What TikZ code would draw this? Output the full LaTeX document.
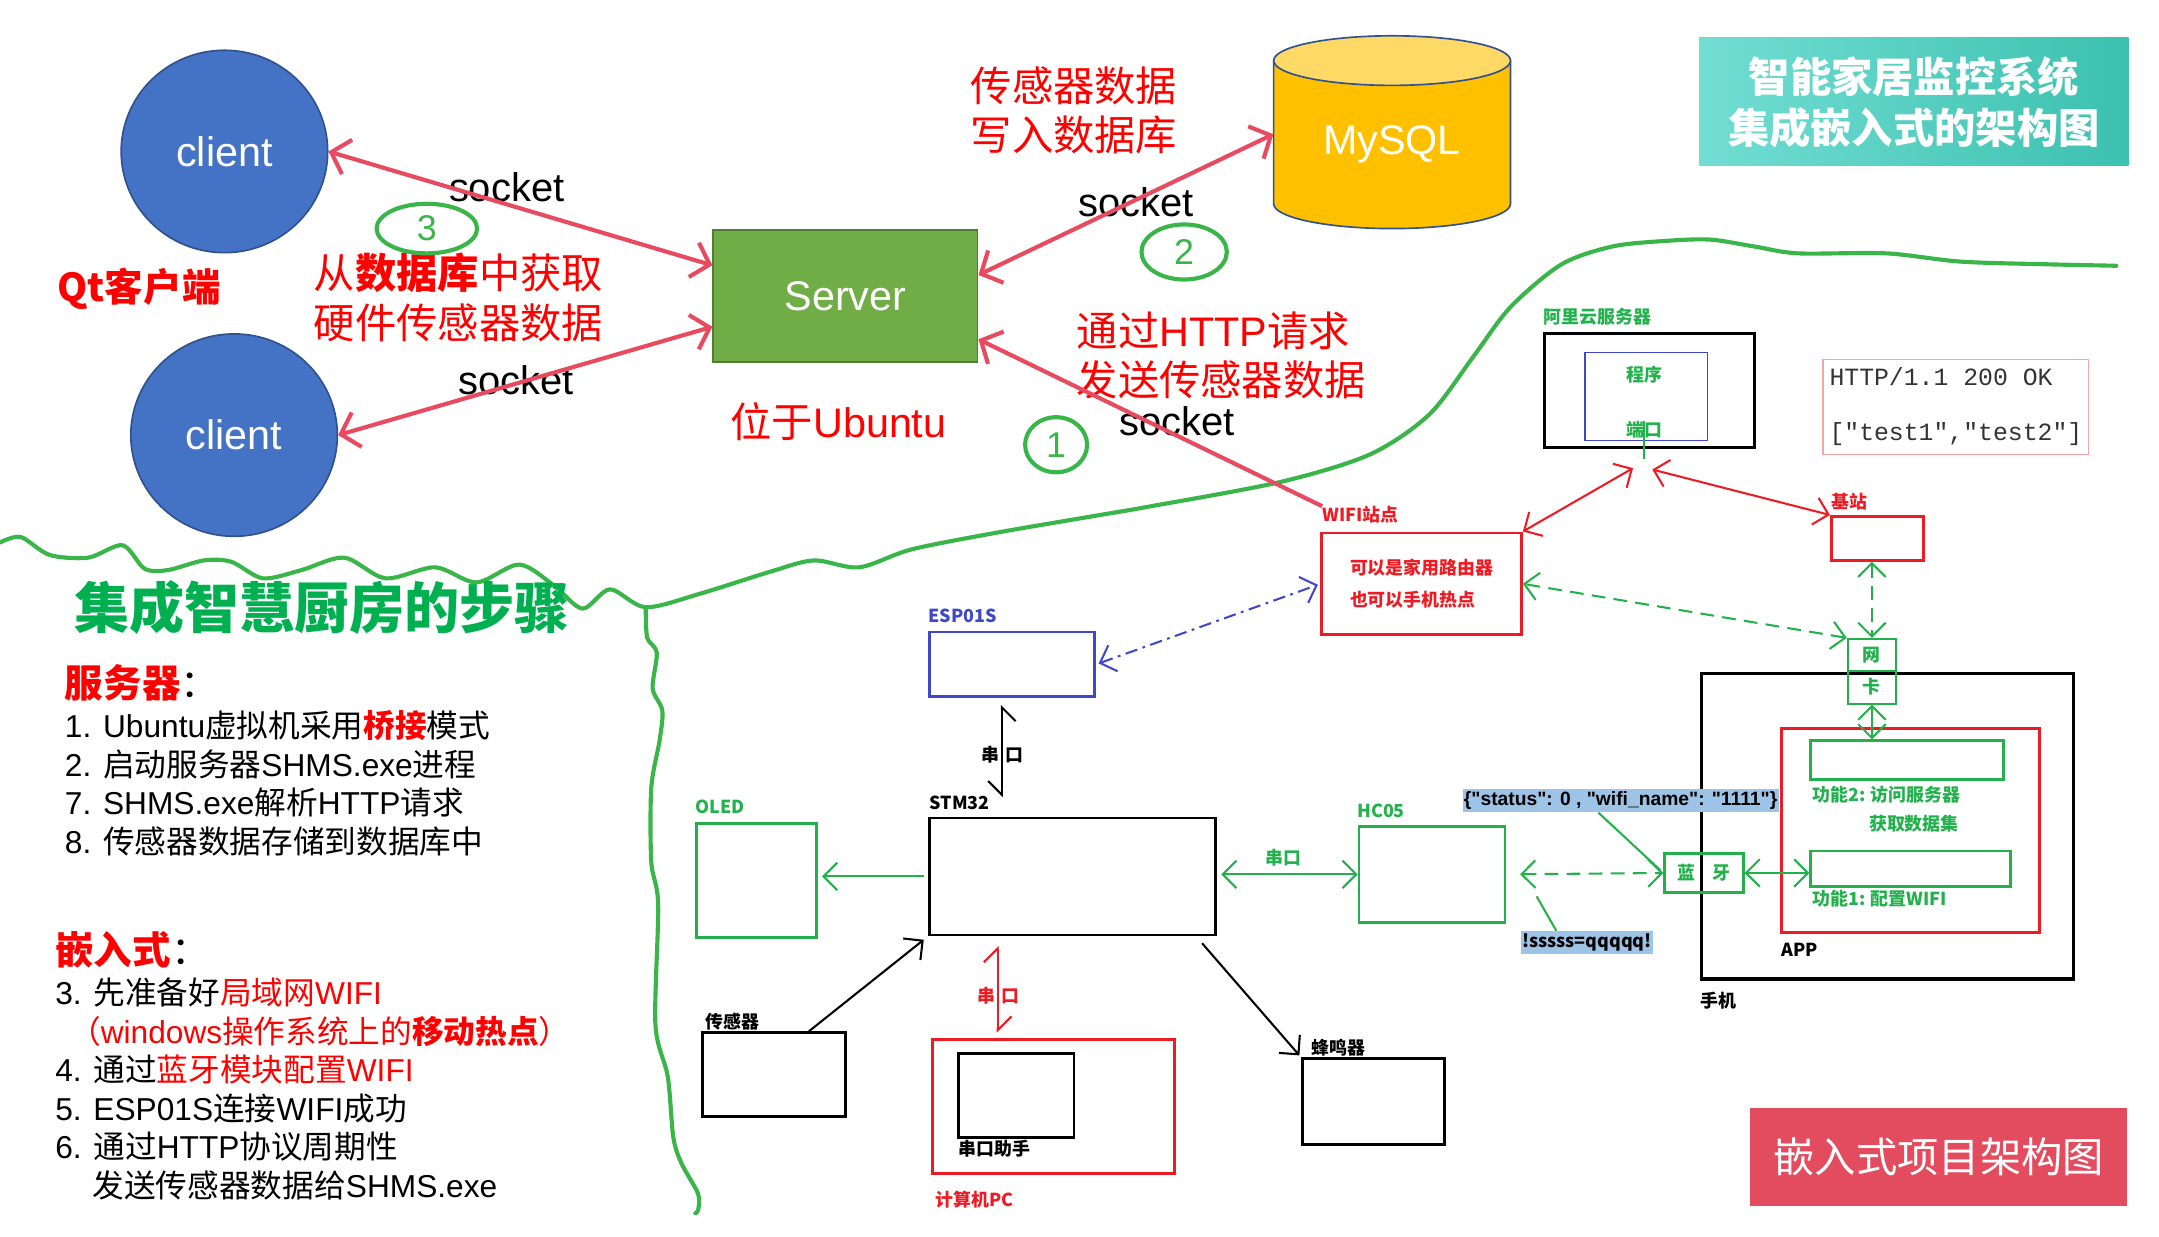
\documentclass[tikz,border=0pt]{standalone}
\usepackage{fontspec}
\setmainfont{Noto Sans CJK SC}
\newfontfamily\latfont{Liberation Sans}
\newfontfamily\monofont{Liberation Mono}
\usetikzlibrary{arrows.meta,calc,shapes.geometric,shapes.multipart}
\definecolor{sockred}{HTML}{E84A5F}
\definecolor{wavegreen}{HTML}{3AB54A}
\definecolor{pgreen}{HTML}{22B14C}
\definecolor{pred}{HTML}{ED1C24}
\definecolor{pblue}{HTML}{3F48CC}
\definecolor{clientblue}{HTML}{4472C4}
\definecolor{clientedge}{HTML}{2F528F}
\definecolor{servergreen}{HTML}{70AD47}
\definecolor{serveredge}{HTML}{507E32}
\definecolor{dbbody}{HTML}{FFC000}
\definecolor{dbtop}{HTML}{FFD966}
\definecolor{tealL}{HTML}{72DDD3}
\definecolor{tealR}{HTML}{3CC1AF}
\definecolor{embred}{HTML}{E34B5F}
\definecolor{hlblue}{HTML}{9DC3E6}
\definecolor{titlegreen}{HTML}{00B050}
\definecolor{httpedge}{HTML}{F4A6A6}
\begin{document}
\begin{tikzpicture}[x=1pt, y=-1pt,
  every node/.style={inner sep=0pt},
  client/.style={ellipse, fill=clientblue, draw=clientedge, line width=1.2, minimum width=150, minimum height=147, text=white, font=\latfont\fontsize{30}{36}\selectfont},
  server/.style={fill=servergreen, draw=serveredge, line width=1.2, minimum width=192, minimum height=96, text=white, font=\latfont\fontsize{30}{36}\selectfont},
  titlebox/.style={left color=tealL, right color=tealR, minimum width=312, minimum height=93, text=white, align=center, font=\fontsize{30}{37}\selectfont\bfseries},
  embbox/.style={fill=embred, minimum width=274, minimum height=71, text=white, font=\fontsize{30}{36}\selectfont},
  redtxt/.style={text=red, font=\fontsize{30}{36}\selectfont},
  sockettxt/.style={font=\latfont\fontsize{29}{34}\selectfont},
  numring/.style={ellipse, draw=wavegreen, line width=3, text=wavegreen, font=\latfont\fontsize{26}{26}\selectfont},
  sock/.style={draw=sockred, line width=3, >={Straight Barb[length=12pt,width=26pt]}},
  wave/.style={wavegreen, line width=3, line cap=round, line join=round},
  item/.style={anchor=west, font=\fontsize{23}{28}\selectfont},
  pbox/.style={draw, line width=2},
  lbl/.style={font=\fontsize{13}{15}\selectfont\bfseries},
  handline/.style={line width=1.5, >={Straight Barb[length=10pt,width=20pt]}},
  greendash/.style={pgreen, handline, dash pattern=on 10pt off 6pt}]
\useasboundingbox (0,0) rectangle (1568,898);

% clients, server, database
\node[client] (c1) at (163,110) {client};
\node[client] (c2) at (170,316) {client};
\node[server] (srv) at (614,215) {Server};
\fill[dbbody] (925,44) rectangle (1097,148);
\fill[dbbody] (1011,148) ellipse[x radius=86, y radius=18];
\draw[clientedge, line width=1.2] (925,44) -- (925,148) arc[start angle=180, end angle=0, x radius=86, y radius=18] -- (1097,44);
\filldraw[fill=dbtop, draw=clientedge, line width=1.2] (1011,44) ellipse[x radius=86, y radius=18];
\node[minimum width=172, minimum height=122, text=white, font=\latfont\fontsize{30}{36}\selectfont] (db) at (1011,105) {MySQL};
\node[titlebox] (title) at (1390,74) {智能家居监控系统\\集成嵌入式的架构图};

% texts of the upper part
\node[redtxt, font=\fontsize{28}{32}\selectfont\bfseries] (qt) at (101,210) {Qt客户端};
\node[redtxt, align=left] (fetch) at (333,216) {从\textbf{数据库}中获取\\硬件传感器数据};
\node[redtxt] (ubu) at (609,306) {位于{\latfont Ubuntu}};
\node[redtxt, align=center] (write) at (780,80) {传感器数据\\写入数据库};
\node[redtxt, align=left] (send) at (887,258) {通过{\latfont HTTP}请求\\发送传感器数据};
\node[sockettxt] (s1) at (368,136) {socket};
\node[sockettxt] (s2) at (375,276) {socket};
\node[sockettxt] (s3) at (825,147) {socket};
\node[sockettxt] (s4) at (855,306) {socket};
\node[numring, minimum width=73, minimum height=36] (n3) at (310,166) {3};
\node[numring, minimum width=62, minimum height=40] (n2) at (860,183) {2};
\node[numring, minimum width=45, minimum height=40] (n1) at (767,323) {1};

% the divide
\draw[wave] plot[smooth, tension=0.5] coordinates {(0,394) (15,390) (36,403) (64,405) (89,396) (105,413) (122,414) (148,407) (168,408) (191,420) (219,414) (250,405) (280,420) (316,412) (346,423) (377,410) (402,425) (423,442) (443,428) (469,441) (509,431) (560,415) (591,407) (624,412) (662,399) (723,387) (799,374) (834,368) (930,350) (995,330) (1038,301) (1070,259) (1097,223) (1134,192) (1171,179) (1209,175) (1242,174) (1274,179) (1306,184) (1370,184) (1424,190) (1489,192) (1537,193)};
\draw[wave] plot[smooth, tension=0.5] coordinates {(469,441) (470,463) (477,474) (474,500) (481,516) (479,538) (473,572) (473,626) (478,657) (476,744) (485,782) (489,826) (495,845) (507,867) (507,879) (505,881)};

% steps
\node[font=\fontsize{40}{44}\selectfont\bfseries, text=titlegreen] (steps) at (234,441) {集成智慧厨房的步骤};
\node[anchor=west, font=\fontsize{28}{32}\selectfont] (srvhead) at (47,496) {{\bfseries\color{red}服务器}：};
\node[item] (i1) at (47,527) {{\latfont 1. Ubuntu}虚拟机采用{\bfseries\color{red}桥接}模式};
\node[item] (i2) at (47,555) {{\latfont 2. }启动服务器{\latfont SHMS.exe}进程};
\node[item] (i7) at (47,583) {{\latfont 7. SHMS.exe}解析{\latfont HTTP}请求};
\node[item] (i8) at (47,611) {{\latfont 8. }传感器数据存储到数据库中};
\node[anchor=west, font=\fontsize{28}{32}\selectfont] (embhead) at (40,690) {{\bfseries\color{red}嵌入式}：};
\node[item] (i3) at (40,721) {{\latfont 3. }先准备好{\color{red}局域网{\latfont WIFI}}};
\node[item, text=red] (i3b) at (50,749) {（{\latfont windows}操作系统上的\textbf{移动热点}）};
\node[item] (i4) at (40,777) {{\latfont 4. }通过{\color{red}蓝牙模块配置{\latfont WIFI}}};
\node[item] (i5) at (40,805) {{\latfont 5. ESP01S}连接{\latfont WIFI}成功};
\node[item] (i6) at (40,833) {{\latfont 6. }通过{\latfont HTTP}协议周期性};
\node[item] (i6b) at (67,861) {发送传感器数据给{\latfont SHMS.exe}};
\node[embbox] (embtitle) at (1408,840) {嵌入式项目架构图};

% cloud side
\node[pbox, line width=2.2, minimum width=152, minimum height=83] (cloud) at (1198,283.5) {};
\node[pbox, draw=pblue, line width=1, minimum width=89, minimum height=64] (prog) at (1195.5,288) {};
\node[lbl, text=pgreen] (progtxt) at (1194,272) {程序};
\node[lbl, text=pgreen] (port) at (1194,312) {端口};
\node[lbl, text=pgreen] (cloudlbl) at (1160,230) {阿里云服务器};
\node[draw=httpedge, line width=1, minimum width=193, minimum height=69, align=left, text=black!80, font=\monofont\fontsize{18}{40}\selectfont] (http) at (1420.5,295.5) {HTTP/1.1 200 OK\\{[}"test1","test2"]};
\coordinate (cl) at (1186,340);
\coordinate (cr) at (1200,341);
\node[pbox, draw=pred, minimum width=145, minimum height=74, align=left, text=pred, font=\fontsize{13}{23}\selectfont\bfseries] (wifi) at (1032.5,424) {可以是家用路由器\\也可以手机热点};
\node[lbl, text=pred] (wifilbl) at (988,374) {WIFI站点};
\node[pbox, draw=pred, minimum width=67, minimum height=32] (bs) at (1363.5,391) {};
\node[lbl, text=pred] (bslbl) at (1343,364) {基站};

% phone
\node[pbox, line width=2.2, minimum width=270, minimum height=222] (phone) at (1371,600) {};
\node[lbl] (phonelbl) at (1248,727) {手机};
\node[pbox, draw=pred, minimum width=187, minimum height=148] (app) at (1387.5,603) {};
\node[lbl] (applbl) at (1307,690) {APP};
\node[pbox, draw=pgreen, minimum width=140, minimum height=28] (f2) at (1385,552) {};
\node[lbl, text=pgreen] (f2a) at (1370,577) {功能2: 访问服务器};
\node[lbl, text=pgreen] (f2b) at (1390,598) {获取数据集};
\node[pbox, draw=pgreen, minimum width=145, minimum height=26] (f1) at (1387.5,631) {};
\node[lbl, text=pgreen] (f1a) at (1365,653) {功能1: 配置WIFI};
\node[rectangle split, rectangle split parts=2, draw=pgreen, line width=1.5, lbl, text=pgreen, minimum width=35, inner sep=5] (nic) at (1359.5,487.5) {网\nodepart{two}卡};
\node[pbox, draw=pgreen, lbl, text=pgreen, minimum width=57, minimum height=28] (bt) at (1237.5,634) {蓝\hspace{12pt}牙};
\node[lbl, font=\latfont\fontsize{14}{16}\selectfont\bfseries, fill=hlblue, inner xsep=1, inner ysep=2] (status) at (1177,581.5) {\{\textquotedbl status\textquotedbl: 0 , \textquotedbl wifi\_name\textquotedbl: \textquotedbl 1111\textquotedbl\}};
\node[lbl, fill=hlblue, inner xsep=1, inner ysep=2] (sss) at (1152.5,684.5) {!sssss=qqqqq!};

% board
\node[pbox, draw=pgreen, minimum width=106, minimum height=70] (hc) at (1040,635) {};
\node[lbl, text=pgreen] (hclbl) at (1003,589) {HC05};
\node[pbox, minimum width=208, minimum height=85] (stm) at (779,636.5) {};
\node[lbl] (stmlbl) at (697,583) {STM32};
\node[pbox, draw=pgreen, minimum width=87, minimum height=83] (oled) at (549.5,639.5) {};
\node[lbl, text=pgreen] (oledlbl) at (523,586) {OLED};
\node[pbox, draw=pblue, minimum width=120, minimum height=47] (esp) at (735,482.5) {};
\node[lbl, text=pblue] (esplbl) at (699,447) {ESP01S};
\node[pbox, minimum width=104, minimum height=61] (sens) at (562,780.5) {};
\node[lbl] (senslbl) at (532,742) {传感器};
\node[pbox, minimum width=103, minimum height=62] (buz) at (997.5,800) {};
\node[lbl] (buzlbl) at (972,761) {蜂鸣器};
\node[pbox, draw=pred, minimum width=176, minimum height=97] (pc) at (765,803.5) {};
\node[lbl, text=pred] (pclbl) at (708,871) {计算机PC};
\node[pbox, minimum width=84, minimum height=61] (helper) at (738,795.5) {};
\node[lbl] (helperlbl) at (722,834) {串口助手};

% socket links
\draw[sock, <->] (c1.east) -- (srv.167);
\draw[sock, <->] (c2.east) -- (srv.193);
\draw[sock, <->] (srv.9) -- (db.175);
\draw[sock, ->] (wifilbl.north west) -- (srv.342);

% links of the embedded side
\draw[pred, handline, <->] (wifi.north east) -- (cl);
\draw[pred, handline, <->] (bs.north west) -- (cr);
\draw[pgreen, line width=1.5] ([yshift=6pt]port.center) -- ++(0,27);
\draw[greendash, <->] (bs.south -| nic.north) -- (nic.north);
\draw[greendash, <->] (nic.north west) -- (wifi.east);
\draw[pgreen, handline, <->] (nic.south) -- (nic.south |- f2.north);
\draw[pgreen, handline, <->] (bt.east) -- (bt.east -| f1.west);
\draw[greendash, <->, shorten <=10pt] (hc.east) -- (bt.west);
\coordinate (hcbarb) at (1116,651);
\draw[pgreen, line width=1.5, shorten >=3pt] ($(status.south west)!0.43!(status.south east)$) -- (bt.west);
\draw[pgreen, line width=1.5] ($(sss.north west)!0.27!(sss.north east)$) -- (hcbarb);
\draw[pgreen, handline, <->, shorten >=3pt] (hc.west) -- (hc.west -| stm.east);
\node[lbl, text=pgreen] (hcport) at (932,623) {串口};
\draw[pgreen, handline, ->, shorten >=3pt, shorten <=3pt] (stm.west) -- (stm.west -| oled.east);
\draw[pblue, handline, dash pattern=on 9pt off 4pt on 2pt off 4pt, <->, shorten >=2pt, shorten <=2pt] (esp.east) -- (wifi.west);
\coordinate (espdown) at ($(esp.south west)!0.44!(esp.south east)$);
\draw[line width=1.5, {Straight Barb[harpoon,swap,length=10pt,width=20pt]}-{Straight Barb[harpoon,swap,length=10pt,width=20pt]}, shorten >=14pt] ([yshift=-5pt]espdown) -- (espdown |- stm.north);
\node[lbl] (espport) at (728,548) {串\hspace{4pt}口};
\draw[handline, ->, shorten >=4pt] ($(sens.north west)!0.74!(sens.north east)$) -- (stm.south west);
\draw[handline, ->, shorten >=2pt] ([shift={(-11,5)}]stm.south east) -- (buz.north west);
\coordinate (pcup) at ($(pc.north west)!0.273!(pc.north east)$);
\draw[pred, line width=1.5, {Straight Barb[harpoon,length=10pt,width=20pt]}-{Straight Barb[harpoon,length=10pt,width=20pt]}, shorten <=7pt, shorten >=4pt] (pcup |- stm.south) -- (pcup);
\node[lbl, text=pred] (pcport) at (725,723) {串\hspace{4pt}口};
\end{tikzpicture}
\end{document}
